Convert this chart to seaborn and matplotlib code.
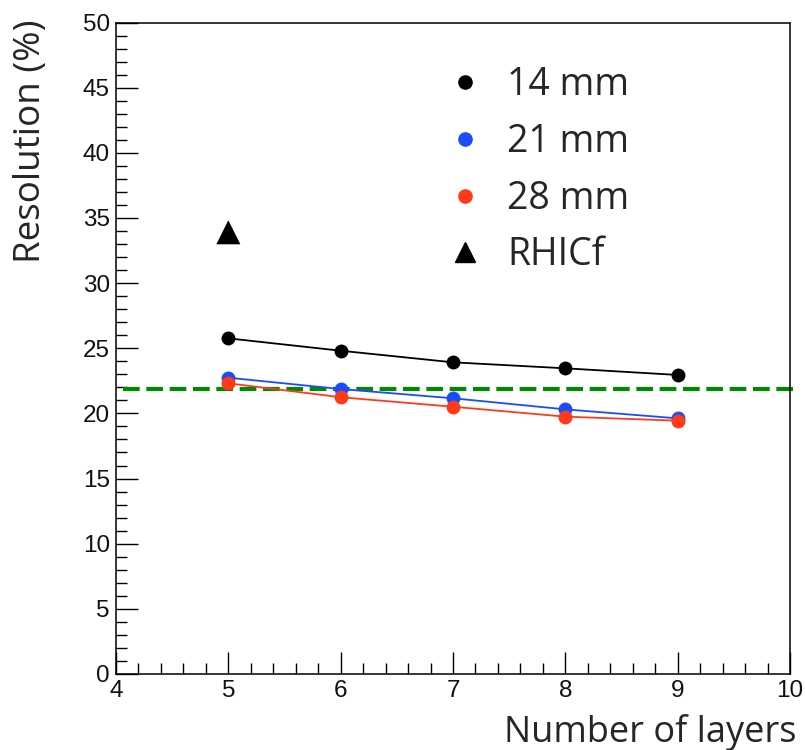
import numpy as np
import pandas as pd
import matplotlib
matplotlib.use("Agg")
import matplotlib.pyplot as plt
import seaborn as sns
from matplotlib.lines import Line2D
from matplotlib.ticker import MultipleLocator

layers = [5, 6, 7, 8, 9]
res_14mm = [25.76, 24.81, 23.92, 23.46, 22.95]
res_21mm = [22.74, 21.87, 21.16, 20.31, 19.62]
res_28mm = [22.31, 21.24, 20.51, 19.75, 19.44]
series_names = ["14 mm", "21 mm", "28 mm"]
series_colors = ["#000000", "#1a4cff", "#ff3a1a"]
rhicf_x = [5]
rhicf_y = [33.9]
reference_level = 21.87

df = pd.DataFrame({
    "layers": layers * 3,
    "res": res_14mm + res_21mm + res_28mm,
    "series": sum([[n] * len(layers) for n in series_names], []),
})

sns.set_style("ticks")
plt.rcParams["font.family"] = ["Liberation Sans", "DejaVu Sans"]

fig = plt.figure(figsize=(8.05, 7.5), dpi=100)
ax = fig.add_axes([116 / 805, 76 / 750, 674 / 805, 651.5 / 750])

palette = dict(zip(series_names, series_colors))
sns.lineplot(data=df, x="layers", y="res", hue="series", palette=palette,
             marker="o", markersize=10, markeredgewidth=0, linewidth=1.3,
             legend=False, ax=ax, zorder=3)
sns.scatterplot(x=rhicf_x, y=rhicf_y, marker="^", s=300, color="black",
                edgecolor="none", ax=ax, zorder=4, legend=False)
ax.axhline(reference_level, xmin=0.01, xmax=1.01, color="#008a00", linewidth=3,
           linestyle=(0, (4, 1.6)), clip_on=False, zorder=2)

ax.set_xlim(4, 10)
ax.set_ylim(0, 50)
ax.xaxis.set_major_locator(MultipleLocator(1))
ax.xaxis.set_minor_locator(MultipleLocator(0.2))
ax.yaxis.set_major_locator(MultipleLocator(5))
ax.yaxis.set_minor_locator(MultipleLocator(1))
ax.tick_params(which="both", direction="in", width=1.0, labelsize=17.5, color="black",
               labelcolor="#111111", top=False, right=False)
ax.tick_params(which="major", length=15.8)
ax.tick_params(which="minor", length=8)
ax.tick_params(axis="x", pad=4)
ax.tick_params(axis="y", pad=4.5)
for s in ax.spines.values():
    s.set_linewidth(1.1)
    s.set_color("black")

lab_font = ["Open Sans", "DejaVu Sans"]
ax.set_xlabel("Number of layers", fontsize=26, family=lab_font, loc="right")
ax.set_ylabel("Resolution (%)", fontsize=26.5, family=lab_font, loc="top")
ax.xaxis.set_label_coords(1.01, -0.061)
ax.yaxis.set_label_coords(-0.10, 1.004)

handles = [Line2D([], [], marker="o", linestyle="none", color=c, markersize=9.5)
           for c in series_colors]
handles.append(Line2D([], [], marker="^", linestyle="none", color="black", markersize=15))
leg = ax.legend(handles, series_names + ["RHICf"], loc="upper left",
                bbox_to_anchor=(0.454, 0.956), frameon=False,
                prop={"family": lab_font, "size": 27}, labelspacing=0.5,
                handletextpad=0.37, handlelength=1.5, borderaxespad=0)

fig.savefig("out.png", dpi=100, facecolor="white")
